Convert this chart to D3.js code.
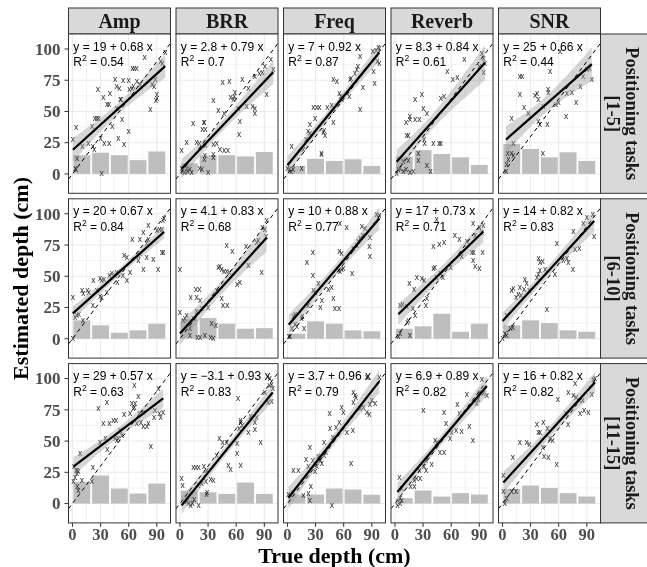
<!DOCTYPE html>
<html><head><meta charset="utf-8">
<script src="https://cdn.jsdelivr.net/npm/d3@7"></script>
<style>body{margin:0;background:#fff} svg{filter:grayscale(100%)}</style></head>
<body>
<svg id="c" width="647" height="567"></svg>
<script>
// ---------- data ----------
const conditions = ["Amp", "BRR", "Freq", "Reverb", "SNR"];
const taskGroups = ["[1-5]", "[6-10]", "[11-15]"];
const xTicks = [0, 30, 60, 90];
const yTicks = [0, 25, 50, 75, 100];
const binCenters = [10, 30, 50, 70, 90];

const intercepts = [[19, 2.8, 7, 8.3, 25], [20, 4.1, 10, 17, 14], [29, -3.1, 3.7, 6.9, 16]];
const slopes = [[0.68, 0.79, 0.92, 0.84, 0.66], [0.67, 0.83, 0.88, 0.73, 0.82], [0.57, 0.93, 0.96, 0.89, 0.82]];
const rSquared = [["0.54", "0.7", "0.87", "0.61", "0.44"], ["0.84", "0.68", "0.77", "0.71", "0.83"], ["0.63", "0.83", "0.79", "0.82", "0.82"]];

const barsRow1 = [[15, 17, 15, 11, 18], [8.5, 15, 15, 14, 17.6], [6.4, 12, 10.4, 11.7, 6.4], [14, 19, 16, 13.3, 7.2], [24, 20, 13.3, 17.3, 10.4]];
const barsRow2 = [[14.7, 10.7, 4.8, 6.7, 12], [16, 16.5, 12, 8, 8.5], [4, 13.9, 12, 6.7, 6], [8, 10, 20, 5.6, 12], [10.7, 14.7, 12.5, 6.7, 5.6]];
const barsRow3 = [[17.3, 22.4, 12, 8, 16], [10.4, 9, 7.7, 16.8, 7.7], [7.2, 7.2, 12, 11.2, 7], [4.3, 10.4, 5.6, 8.3, 7.2], [11.7, 14.4, 12.5, 8.3, 5.6]];

const amp1 = [[0.5,27.7],[4,37],[5,12],[3,4],[4,3],[10.7,21.6],[17,24],[21,38],[24,44],[26,44],[28,44],[21.7,22],[23.5,19],[27,67],[30,28],[33,61],[34,24],[39,24],[37,55],[39,55],[40,64],[42.6,38],[45.5,75],[54,74.7],[60,74.7],[47,70],[50,68.5],[49,28],[55,23],[51,59],[52,59.7],[47,52.5],[53,43],[60,34],[60.8,67.7],[65,70],[63.7,68.5],[64,84],[66,84],[68.5,84],[68.6,73.6],[72,71.5],[77,93],[83,51],[85,71.5],[87,70],[88.5,75],[90,63],[90,60.5],[89,58.7],[99,97],[94,90],[96,88],[31,0.5]];
const brr1 = [[1.8,18.7],[1.8,4],[2.8,2],[5,1],[7,4],[8,2],[10.7,3],[12.5,1],[7,25],[14,40.5],[25.6,41],[26,41],[24,35],[27,35],[17.8,25],[20.6,24],[27,22.4],[26.7,14.7],[26,11],[21,4.5],[23.5,3],[30,1],[35.6,15],[35.6,13],[35.6,23],[39,24],[42.7,19],[47,18.7],[51,18.7],[41,50.7],[35.6,58.7],[45.5,73],[52.7,73.6],[47,48.5],[54,61],[57,59],[58,62],[58.7,65],[62,52],[63,31],[64,42],[66.5,75],[73,68.5],[71,54],[77.6,54],[80,52],[80,48.5],[80,78],[84.7,80],[88,81],[92.5,63.5],[97,91],[99.6,83],[90.7,86]];
const freq1 = [[0,4],[2,3],[4,2],[6,3],[4.5,22],[15,4.5],[17,19],[20,27],[22,34],[24,32.5],[24,39],[27.6,53],[31,53],[34,53],[29.5,44.5],[36.5,15],[39,34.6],[38.3,33],[40.3,30.4],[36.3,16],[49,41],[42.6,53],[47,54.4],[55.5,64],[57,62],[58,59],[66,62],[49,75],[52.6,74],[66.8,75],[67.9,76.5],[77.5,51],[80.4,69.3],[93,72],[72,80],[74,83],[75,86],[77.5,94],[91.8,82],[91,98],[94.6,98.7],[97,101],[98,100],[96,90],[98,88.5]];
const reverb1 = [[1.8,0.5],[3.6,3],[5.4,4.5],[9,2],[11.8,3],[16,1],[19.6,2],[9,10],[14.3,10.4],[25,10.7],[25,16.5],[34,6.4],[38,2],[12.5,30.4],[14.3,30.4],[31,27.7],[31.7,24],[41,24],[47,24],[49,24.5],[11.8,41],[16,45.9],[16,43],[21.4,43],[26,43],[21.4,59.7],[28.6,63],[30.4,52.5],[34,48.5],[49,60.5],[52.4,62],[61.7,75],[66.7,77],[56,82],[74,91],[90,86],[94.6,92],[96,88.5],[92.6,96.5],[94.6,81]];
const snr1 = [[3.8,2],[4.5,7],[6.3,11],[5.6,16],[9.5,16],[11.6,14.4],[9.9,44.5],[11.6,24.5],[18.6,78],[21,78],[18.6,63],[23,53],[27.7,48.5],[34.8,62.7],[37,64.5],[48.6,67.7],[49,65],[38.4,42],[40,39],[48,39],[38.4,59],[43.7,53.8],[43,16.5],[50.8,82],[61.5,98],[68,46],[68.6,64.5],[78.5,57],[86,78],[90,83],[93,84.5],[95.3,75.7],[57,55],[60,57],[74,65],[83,70]];

const amp2 = [[0.4,0],[0.4,33],[2.8,17],[4.6,18.7],[6.8,19.5],[10.3,38.7],[11.7,36],[16,38.7],[17.4,37],[11,14],[21.7,26.7],[26,38.7],[29.5,33.9],[31,33],[22.4,46],[29.5,48],[31,46],[33.8,47],[36.6,37],[39.5,50],[42,52],[45.5,50],[47,52.5],[48,44.5],[53.7,50.7],[58,46.7],[61.5,53],[55,66.7],[58,65],[70.4,62.7],[70.4,66.7],[72,68],[64,79],[72,79],[75.7,85],[81,90],[75.7,55.5],[79,65],[86.4,63.5],[91.4,55.5],[79,76],[81,79],[90,86.7],[93,87],[95.3,87],[95.3,69],[97,68.5],[96.4,94.7],[97.8,96]];
const brr2 = [[0,55],[0,20.5],[3.6,14],[5.3,16],[7,18],[10.7,2],[14.2,16],[10.7,8],[17.8,21.3],[11.4,33],[17,39],[20.6,39],[17.8,33],[21.4,30],[18.5,1],[21.4,1],[26.7,2],[32.7,1],[35.6,0],[23,24],[30,25],[33.8,12],[38.4,10.7],[39,38.7],[44.5,32],[46,26.7],[50.5,26.7],[41,56.8],[42.7,57.3],[44.5,55],[47,53.3],[49.8,53.3],[52.7,52.5],[49.8,74.7],[56,69.3],[61,43.5],[64,44.5],[70.5,73.3],[73,58.7],[81.8,76.5],[83.6,78],[88,88.8],[90.7,87],[87,52.5],[92.5,94],[91.8,81.3]];
const freq2 = [[1.4,1.3],[2.8,1.9],[4.6,8],[8.2,11.5],[10,9.3],[6.4,17.9],[8.2,19.5],[15,16],[16,17.3],[17.8,8],[20.6,61],[27,68.5],[27,50.7],[22,26],[29.5,37],[35,25],[27.7,38.7],[33,44],[36.6,30.7],[49,32],[50.7,24],[55,24],[43.6,39],[47,40.8],[54.4,54.7],[56,53.3],[57.9,55],[59.7,55.7],[55.4,69.3],[57.9,68],[69,52],[70.4,72],[74,74.7],[75.7,77.3],[77.5,80],[80.4,82.7],[87.4,73.3],[88,65.3],[79.3,89.3],[82.8,88],[56,92],[88,81],[95,99.5],[97,97],[98,98],[63,89]];
const reverb2 = [[3.6,1.3],[5.4,4],[13.2,12.5],[14.3,14],[16,2.7],[5.4,26.7],[8.2,27.5],[12.5,25.3],[19,24],[21.4,18.7],[15.4,44],[20.4,39],[23.4,48.8],[28.6,48],[31,46.7],[33,26.7],[34,32],[41,56],[42.7,56.8],[44.5,48.8],[48.8,52],[51,48.8],[41,73.9],[47.4,75.5],[52.4,76.5],[44.5,95],[59.5,56.8],[64,82],[68.8,79.3],[71,65.3],[76.6,77.3],[82,68.5],[84,68.5],[93.6,68.5],[83.5,62],[85.5,57.8],[90,56],[85.5,82.7],[83.5,92],[90,89],[94.3,90],[92.6,84.5]];
const snr2 = [[0.2,0],[2.7,4],[4.5,2],[8.8,8],[11,8.8],[4.5,18.7],[9.9,38],[11.6,40],[14.5,33],[17,35.5],[19.8,34.7],[18.6,41],[23,39],[24,47],[25.9,44],[28.7,38.7],[36.6,49],[38.4,51.5],[40,54.7],[38.7,64],[40,60.5],[42.9,61.3],[45.4,55],[47.3,23],[56,51],[65,62.7],[68.6,64],[70.4,60.5],[75,55],[75.7,85.3],[77.5,71],[82,72],[58,76],[86.4,92],[90,97],[96.4,99.5],[97.8,81.3]];

const amp3 = [[1,17],[2.8,20.5],[4.6,23.7],[5.3,26.4],[6.4,25.6],[3.9,26.4],[1.8,29],[6.4,10.4],[5.3,13],[10,18.4],[8.2,39.7],[20.6,17],[21.7,28.5],[27.7,75.7],[29.5,49],[35,51.7],[33,63.7],[39.5,63.7],[36.6,81],[37.3,43.2],[43.7,66.4],[46.6,65.9],[45.5,51.7],[47.3,50.4],[49,51.7],[50.8,58.4],[52.6,54.4],[55,71.2],[61.6,72.2],[65,75.7],[63.3,79.7],[66.9,79.7],[66,77],[68.6,63.7],[73,64.3],[75.7,61.6],[79.3,61.6],[70.4,85.6],[66,94.4],[71.5,71.7],[75,73],[81,63.7],[83.6,45.6],[87,69],[88,74.4],[92.6,71.7],[94,69],[96.8,73],[91.7,91.7]];
const brr3 = [[1.8,19.7],[2.8,14.4],[7,1],[8.9,0],[11.4,-1.6],[13.5,0],[15,3],[20,-1.6],[14.2,28.5],[17,28.5],[20,28.5],[19.6,14.4],[25.6,29],[28.5,26.4],[28.5,7],[29,8.3],[23,15.7],[27.7,17],[32.7,19],[35.6,18.4],[39,38.4],[42,51.7],[45.5,48.3],[50,49],[51.6,30.4],[54,27],[64.8,30.4],[61,47.7],[61,39.7],[63,59.7],[64.8,66.4],[64.8,64.3],[66.5,62.4],[73,57],[80,59],[75.4,69.6],[80,65],[81.8,69],[86,49],[90.7,89],[94,81],[95.4,94.4],[97.8,95],[99,91.7],[96,100],[62,83.7],[97.8,81.6]];
const freq3 = [[1,7],[3.5,7.2],[5.7,8.3],[6.4,26.4],[11.7,26.4],[17,6.4],[22.4,7.7],[24,2.4],[20,35],[22.4,29],[27,33.9],[25,13.6],[29.5,25],[31.3,29],[33,37],[35,34.4],[36.6,31.7],[24,45],[39,49],[34.8,34.4],[39,38.4],[41,41],[47.3,-1.6],[48.4,53],[45.6,59.7],[52,60.5],[55.4,65],[45,71.7],[57.9,76.5],[59.7,73],[63.3,57],[69.7,58.4],[67.9,31.7],[70.4,89],[72.2,86.4],[70.4,81],[73,85],[77.5,75.7],[81,77],[84.6,73],[87.5,71],[88,79],[90,82.4],[93.5,79.7],[98,101],[84.6,100.5]];
const reverb3 = [[2.6,-1.6],[5.4,0],[7.2,2.4],[5.4,3.7],[7.2,11.7],[4.7,20.5],[16.8,13],[20.7,13.6],[20.4,18.4],[23.2,19.7],[26.8,19.7],[26,26.4],[31,29],[33.2,26.4],[39,31.2],[33.2,34.4],[30.4,74.4],[42.8,49.9],[44.6,48.3],[48,41],[52.4,40.3],[52.4,73],[54.6,63.7],[58.8,51.7],[60.5,57],[65.2,58.4],[71,57.8],[66.6,79.2],[68.8,71.7],[79.4,61.6],[83,49.9],[76.6,87.2],[90,88.3],[94.3,87.7],[98,86.4],[92.6,99],[87.2,79.7],[89,83]];
const snr3 = [[1,22.4],[1,9],[2.7,0],[4.5,3.7],[9.9,9],[14.5,9],[11,36.5],[18.6,48.3],[25.8,48.3],[28.6,47.2],[36.6,63.2],[43.7,65],[38.4,57],[40.2,57],[43,45],[48,59.7],[50.8,51.7],[53.6,49.9],[49,36.5],[57.9,31.2],[44.5,37],[59,83],[70,63.2],[67.9,71.7],[70.4,88.3],[75.7,86.4],[78.5,85],[82,82.4],[85.6,82.4],[77.5,95.7],[82.8,71.7],[87,74.4],[91.7,73],[95.3,87.2],[97,99],[98.8,99.7]];

// ---------- layout ----------
const points = [[amp1, brr1, freq1, reverb1, snr1], [amp2, brr2, freq2, reverb2, snr2], [amp3, brr3, freq3, reverb3, snr3]];
const bars = [barsRow1, barsRow2, barsRow3];

const svg = d3.select("#c");
const left0 = 68.5, pw = 102, gx = 5.5, top0 = 34, ph = 159.3, gy = 5.5, stripH = 26;
const x = d3.scaleLinear().domain([-4.2, 104.6]).range([0, pw]);
const y = d3.scaleLinear().domain([-15.5, 112]).range([ph, 0]);
const serif = "'Liberation Serif','Times New Roman',serif";
const sans = "'Liberation Sans',Arial,Helvetica,sans-serif";
const fmt = v => String(v).replace("-", "−");
const tCrit = 2.01;

svg.append("rect").attr("width", 647).attr("height", 567).attr("fill", "#fff");
const defs = svg.append("defs");
defs.append("clipPath").attr("id", "pclip").append("rect").attr("width", pw).attr("height", ph);

conditions.forEach((cond, c) => {
  const sx = left0 + c * (pw + gx);
  const st = svg.append("g").attr("transform", `translate(${sx},${top0 - stripH})`);
  st.append("rect").attr("width", pw).attr("height", stripH).attr("fill", "#D9D9D9").attr("stroke", "#333").attr("stroke-width", 1);
  st.append("text").attr("x", pw / 2).attr("y", stripH / 2 + 6.8).attr("text-anchor", "middle")
    .attr("font-family", serif).attr("font-weight", "bold").attr("font-size", 20).attr("fill", "#1a1a1a").text(cond);
});

taskGroups.forEach((tg, r) => {
  const ty = top0 + r * (ph + gy);
  const sx = left0 + 5 * pw + 4 * gx;
  const st = svg.append("g").attr("transform", `translate(${sx},${ty})`);
  st.append("rect").attr("width", 70).attr("height", ph).attr("fill", "#D9D9D9").attr("stroke", "#333").attr("stroke-width", 1);
  const cx = ph / 2;
  st.append("text").attr("transform", `translate(${626 - sx},${cx}) rotate(90)`).attr("text-anchor", "middle")
    .attr("font-family", serif).attr("font-weight", "bold").attr("font-size", 18.5).attr("fill", "#1a1a1a").text("Positioning tasks");
  st.append("text").attr("transform", `translate(${607 - sx},${cx}) rotate(90)`).attr("text-anchor", "middle")
    .attr("font-family", serif).attr("font-weight", "bold").attr("font-size", 18.5).attr("fill", "#1a1a1a").text(tg);
});

taskGroups.forEach((tg, r) => {
  conditions.forEach((cond, c) => {
    const g = svg.append("g").attr("transform", `translate(${left0 + c * (pw + gx)},${top0 + r * (ph + gy)})`);
    g.append("rect").attr("width", pw).attr("height", ph).attr("fill", "#fff");
    const inner = g.append("g").attr("clip-path", "url(#pclip)");
    // minor grid
    [15, 45, 75].forEach(v => inner.append("line").attr("x1", x(v)).attr("x2", x(v)).attr("y1", 0).attr("y2", ph).attr("stroke", "#EBEBEB").attr("stroke-width", 0.6));
    [12.5, 37.5, 62.5, 87.5].forEach(v => inner.append("line").attr("y1", y(v)).attr("y2", y(v)).attr("x1", 0).attr("x2", pw).attr("stroke", "#EBEBEB").attr("stroke-width", 0.6));
    xTicks.forEach(v => inner.append("line").attr("x1", x(v)).attr("x2", x(v)).attr("y1", 0).attr("y2", ph).attr("stroke", "#EBEBEB").attr("stroke-width", 1.1));
    yTicks.forEach(v => inner.append("line").attr("y1", y(v)).attr("y2", y(v)).attr("x1", 0).attr("x2", pw).attr("stroke", "#EBEBEB").attr("stroke-width", 1.1));
    // bars
    inner.selectAll("rect.bar").data(bars[r][c]).join("rect").attr("class", "bar")
      .attr("x", (d, i) => x(binCenters[i] - 9)).attr("width", x(18) - x(0))
      .attr("y", d => y(d)).attr("height", d => y(0) - y(d)).attr("fill", "#BEBEBE");
    // points (x glyphs)
    const pts = points[r][c];
    inner.append("g").attr("class", "pts").selectAll("text").data(pts).join("text")
      .attr("x", d => x(d[0])).attr("y", d => y(d[1]) + 2.2).attr("text-anchor", "middle")
      .attr("font-family", sans).attr("font-size", 8.5).attr("fill", "#2b2b2b").text("x");
    // regression ribbon
    const a = intercepts[r][c], b = slopes[r][c];
    const n = pts.length;
    const xbar = d3.mean(pts, d => d[0]);
    const sxx = d3.sum(pts, d => (d[0] - xbar) ** 2);
    const s = Math.sqrt(d3.sum(pts, d => (d[1] - a - b * d[0]) ** 2) / (n - 2));
    const [xmin, xmax] = d3.extent(pts, d => d[0]);
    const grid = d3.range(0, 41).map(i => xmin + (xmax - xmin) * i / 40);
    const band = grid.map(v => {
      const se = s * Math.sqrt(1 / n + (v - xbar) ** 2 / sxx);
      return { v, lo: a + b * v - tCrit * se, hi: a + b * v + tCrit * se };
    });
    inner.append("path").datum(band)
      .attr("d", d3.area().x(d => x(d.v)).y0(d => y(d.lo)).y1(d => y(d.hi)))
      .attr("fill", "#999").attr("opacity", 0.4);
    inner.append("line").attr("x1", x(xmin)).attr("x2", x(xmax)).attr("y1", y(a + b * xmin)).attr("y2", y(a + b * xmax))
      .attr("stroke", "#000").attr("stroke-width", 2.2);
    // identity line
    const dom = x.domain();
    inner.append("line").attr("x1", x(dom[0])).attr("x2", x(dom[1])).attr("y1", y(dom[0])).attr("y2", y(dom[1]))
      .attr("stroke", "#000").attr("stroke-width", 1).attr("stroke-dasharray", "4,3.5");
    // equation labels
    const eq = g.append("text").attr("x", 4.8).attr("y", 16.7).attr("font-family", sans).attr("font-size", 12).attr("fill", "#000");
    eq.text(`y = ${fmt(a)} + ${b} x`);
    const r2 = g.append("text").attr("x", 4.8).attr("y", 32).attr("font-family", sans).attr("font-size", 12).attr("fill", "#000");
    r2.append("tspan").text("R");
    r2.append("tspan").attr("dy", -5).attr("font-size", 8.5).text("2");
    r2.append("tspan").attr("dy", 5).text(` = ${rSquared[r][c]}`);
    // border
    g.append("rect").attr("width", pw).attr("height", ph).attr("fill", "none").attr("stroke", "#333").attr("stroke-width", 1);
    // y axis on first column
    if (c === 0) {
      yTicks.forEach(v => {
        g.append("line").attr("x1", -4).attr("x2", 0).attr("y1", y(v)).attr("y2", y(v)).attr("stroke", "#333").attr("stroke-width", 1);
        g.append("text").attr("x", -8).attr("y", y(v) + 5.8).attr("text-anchor", "end")
          .attr("font-family", serif).attr("font-weight", "bold").attr("font-size", 17).attr("fill", "#4D4D4D").text(v);
      });
    }
    if (r === 2) {
      xTicks.forEach(v => {
        g.append("line").attr("x1", x(v)).attr("x2", x(v)).attr("y1", ph).attr("y2", ph + 4).attr("stroke", "#333").attr("stroke-width", 1);
        g.append("text").attr("x", x(v)).attr("y", ph + 16.8).attr("text-anchor", "middle")
          .attr("font-family", serif).attr("font-weight", "bold").attr("font-size", 16.5).attr("fill", "#4D4D4D").text(v);
      });
    }
  });
});

// axis titles
svg.append("text").attr("x", (left0 + left0 + 5 * pw + 4 * gx) / 2).attr("y", 563).attr("text-anchor", "middle")
  .attr("font-family", serif).attr("font-weight", "bold").attr("font-size", 22).attr("fill", "#000").text("True depth (cm)");
svg.append("text").attr("transform", `translate(28,${top0 + (3 * ph + 2 * gy) / 2}) rotate(-90)`).attr("text-anchor", "middle")
  .attr("font-family", serif).attr("font-weight", "bold").attr("font-size", 22).attr("fill", "#000").text("Estimated depth (cm)");
</script>
</body></html>
